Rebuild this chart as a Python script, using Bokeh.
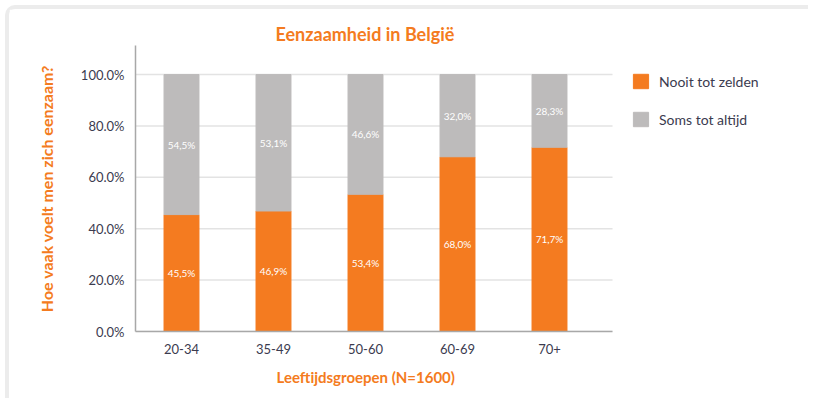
from bokeh.plotting import figure
from bokeh.models import (ColumnDataSource, Range1d, FixedTicker, NumeralTickFormatter,
                          Legend, LegendItem, LabelSet, Title)
from bokeh.core.properties import value
from bokeh.embed import file_html
from bokeh.resources import INLINE

# ---- data ----
categories = ["20-34", "35-49", "50-60", "60-69", "70+"]
nooit_tot_zelden = [45.5, 46.9, 53.4, 68.0, 71.7]
soms_tot_altijd = [54.5, 53.1, 46.6, 32.0, 28.3]
y_ticks = [0.0, 0.2, 0.4, 0.6, 0.8, 1.0]

ORANGE = "#f47b20"
GREY = "#bdbbbb"
TEXT = "#3b3b4f"
FONT = "Lato"

SHIFT = 9  # card offset + border width
W, H = 812 - SHIFT, 402 - SHIFT
LEFT = 135 - SHIFT
X0, X1 = -0.5, 4.685                    # extent of the plotting area proper
XEND = X0 + (W - LEFT) / 92.0           # frame extended to host the legend

idx = list(range(len(categories)))
a = [v / 100 for v in nooit_tot_zelden]
b = [v / 100 for v in soms_tot_altijd]
top_b = [x + y for x, y in zip(a, b)]


def fmt(v):
    return f"{v:.1f}".replace(".", ",") + "%"


src = ColumnDataSource(dict(
    x=idx, a=a, top_b=top_b,
    mid_a=[v / 2 for v in a],
    mid_b=[x + y / 2 for x, y in zip(a, b)],
    lab_a=[fmt(v) for v in nooit_tot_zelden],
    lab_b=[fmt(v) for v in soms_tot_altijd],
))

p = figure(width=W, height=H, output_backend="svg",
           toolbar_location=None,
           x_range=Range1d(X0, XEND), y_range=Range1d(0, 1.113),
           min_border_left=LEFT, min_border_right=0, min_border_top=45 - SHIFT,
           min_border_bottom=H - (331 - SHIFT))
p.styles = {"margin-left": "5px", "margin-top": "5px",
            "border-left": "4px solid #ececec", "border-top": "4px solid #ececec",
            "border-top-left-radius": "10px"}
p.outline_line_color = None
p.background_fill_color = "white"
p.border_fill_color = "white"

# horizontal grid lines, limited to the plotting area
p.xgrid.grid_line_color = None
p.ygrid.grid_line_color = None
p.segment(x0=[X0] * len(y_ticks), x1=[X1] * len(y_ticks), y0=y_ticks, y1=y_ticks,
          line_color="#e3e3e3", line_width=1.5)

r1 = p.vbar(x="x", bottom=0, top="a", width=0.38, color=ORANGE, source=src)
r2 = p.vbar(x="x", bottom="a", top="top_b", width=0.38, color=GREY, source=src)

for col, lab in (("mid_a", "lab_a"), ("mid_b", "lab_b")):
    p.add_layout(LabelSet(x="x", y=col, text=lab, source=src, text_align="center",
                          text_baseline="middle", text_color="white",
                          text_font_size="10px", text_font=value(FONT)))

# title
p.title.text = "Eenzaamheid in België"
p.title.align = "left"
p.title.offset = 140
p.title.text_color = ORANGE
p.title.text_font = FONT
p.title.text_font_size = "18px"
p.title.text_font_style = "bold"
p.title.standoff = 1

# axes
p.xaxis.ticker = FixedTicker(ticks=idx)
p.xaxis.major_label_overrides = {i: c for i, c in zip(idx, categories)}
p.xaxis.bounds = (X0, X1)
p.yaxis.ticker = FixedTicker(ticks=y_ticks)
p.yaxis.formatter = NumeralTickFormatter(format="0.0%")
for ax in (p.xaxis[0], p.yaxis[0]):
    ax.axis_line_color = "#a8a8a8"
    ax.axis_line_width = 1.5
    ax.major_tick_line_color = None
    ax.minor_tick_line_color = None
    ax.major_label_text_color = TEXT
    ax.major_label_text_font = FONT
    ax.major_label_text_font_size = "13px"
    ax.major_label_standoff = 5
    ax.axis_label_text_color = ORANGE
    ax.axis_label_text_font = FONT
    ax.axis_label_text_font_style = "bold"
    ax.axis_label_text_font_size = "16px"

p.xaxis.major_label_standoff = 6
p.yaxis.axis_label = "Hoe vaak voelt men zich eenzaam?"
p.yaxis.axis_label_standoff = 22

xlab = Title(text="Leeftijdsgroepen (N=1600)", align="left", offset=141,
             text_color=ORANGE, text_font=FONT, text_font_style="bold",
             text_font_size="15px", standoff=19)
p.add_layout(xlab, "below")

legend = Legend(items=[LegendItem(label="Nooit tot zelden", renderers=[r1]),
                       LegendItem(label="Soms tot altijd", renderers=[r2])],
                location=(496, 203))
legend.border_line_color = None
legend.background_fill_alpha = 0
legend.padding = 0
legend.margin = 0
legend.glyph_width = 19
legend.glyph_height = 18
legend.label_height = 18
legend.spacing = 20
legend.label_standoff = 9
legend.label_text_font = FONT
legend.label_text_font_size = "14px"
legend.label_text_color = TEXT
p.add_layout(legend, "center")

open("out.html", "w").write(file_html(p, INLINE))
